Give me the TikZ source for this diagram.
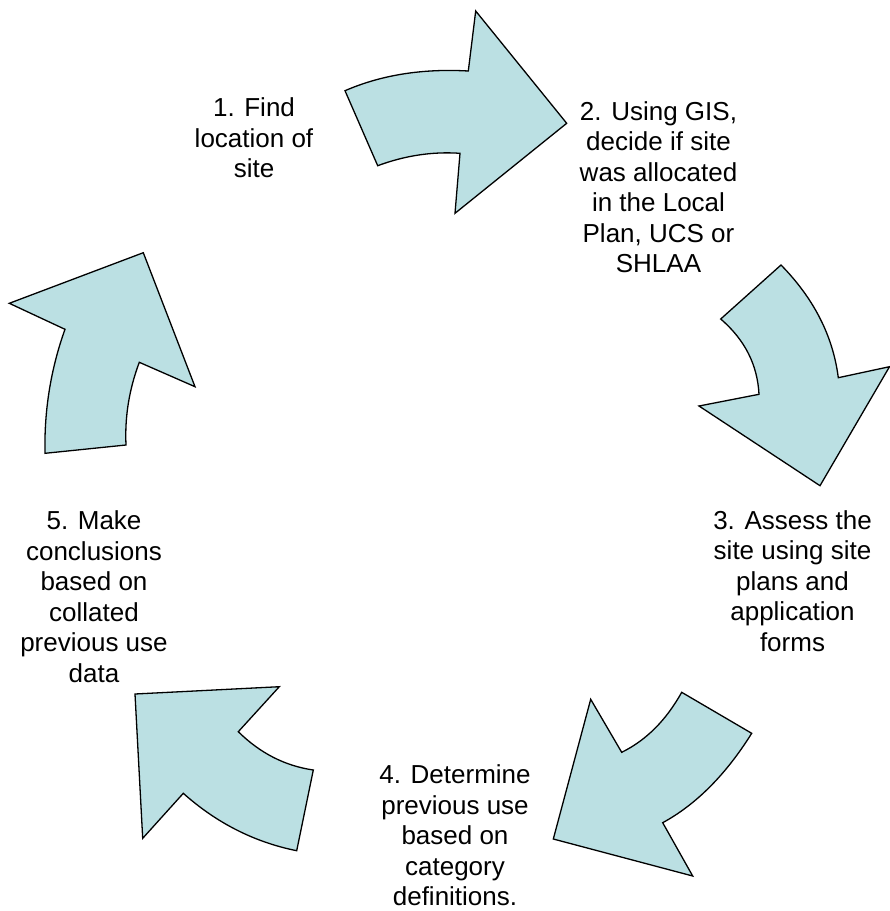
\documentclass[tikz,border=0pt]{standalone}
\usepackage{fontspec}
\setmainfont{Liberation Sans}
\definecolor{arrowfill}{RGB}{187,224,227}
\tikzset{
  cyclearrow/.style={fill=arrowfill, draw=black, line width=1.3pt, line join=miter},
  steplabel/.style={align=center, inner sep=0pt, anchor=north, font=\fontsize{26}{30.5}\selectfont}
}
\newcommand{\toprule}{\rule{0pt}{20pt}}
\begin{document}
\begin{tikzpicture}[x=1pt,y=-1pt]
\useasboundingbox (0,0) rectangle (890,911);
% arrow 1 (top)
\path[cyclearrow] (345,90.7) .. controls (381.2,75) and (422.3,68.4) .. (468.3,71) -- (475.7,11) -- (566.7,123.3) -- (455,213.3) -- (460,153.3) .. controls (432.4,151.4) and (404.9,155.6) .. (377.7,165.7) -- cycle;
% arrow 2 (right)
\path[cyclearrow] (720.7,319) -- (781,265) .. controls (813.9,298.5) and (833,336.1) .. (838.3,377.7) -- (889.5,366.7) -- (820,485.7) -- (699,406) -- (759,394.3) .. controls (757.5,364.8) and (744.8,339.7) .. (720.7,319) -- cycle;
% arrow 3 (bottom right)
\path[cyclearrow] (681.7,692.3) -- (751.7,733.3) .. controls (725.8,774.7) and (696.1,804.5) .. (662.7,822.7) -- (692.7,876) -- (553.3,839) -- (590.7,699.3) -- (621.7,752.3) .. controls (646.1,740.3) and (666.1,720.3) .. (681.7,692.3) -- cycle;
% arrow 4 (bottom left)
\path[cyclearrow] (313.3,770) -- (296.7,850.7) .. controls (254.5,842.2) and (216.7,823.1) .. (183.3,793.3) -- (142.7,838.3) -- (135,694) -- (279.3,686.7) -- (238.3,731.7) .. controls (260,753.1) and (285,765.9) .. (313.3,770) -- cycle;
% arrow 5 (left)
\path[cyclearrow] (45,453.3) -- (126,445) .. controls (124.7,417) and (129.1,389.4) .. (139.3,362.3) -- (195,386.7) -- (143.3,252.7) -- (9.3,303.3) -- (65,329.3) .. controls (50.8,368.9) and (44.1,410.2) .. (45,453.3) -- cycle;
% labels
\node[steplabel] (s1) at (254,96.3) {\toprule 1. Find\\location of\\site};
\node[steplabel] (s2) at (658.5,100.1) {\toprule 2. Using GIS,\\decide if site\\was allocated\\in the Local\\Plan, UCS or\\SHLAA};
\node[steplabel] (s3) at (792.5,509) {\toprule 3. Assess the\\site using site\\plans and\\application\\forms};
\node[steplabel] (s4) at (455,763.7) {\toprule 4. Determine\\previous use\\based on\\category\\definitions.};
\node[steplabel] (s5) at (94,509.5) {\toprule 5. Make\\conclusions\\based on\\collated\\previous use\\data};
\end{tikzpicture}
\end{document}
